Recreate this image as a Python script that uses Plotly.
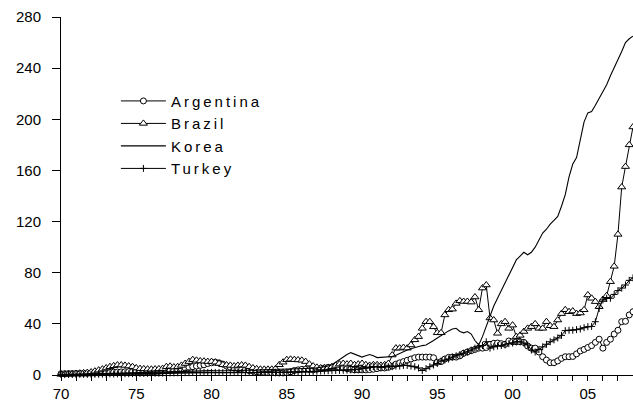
import plotly.graph_objects as go

# Quarterly observations, 1970Q1 .. 2008Q1 (153 points)
start_year = 1970
n_quarters = 153

argentina = [
    1.0, 1.0, 1.1, 1.1,   # 1970
    1.2, 1.2, 1.3, 1.3,   # 1971
    1.4, 1.5, 1.6, 1.7,   # 1972
    1.8, 2.0, 2.2, 2.3,   # 1973
    2.4, 2.5, 2.6, 2.6,   # 1974
    2.5, 2.4, 2.3, 2.3,   # 1975
    2.4, 2.6, 2.8, 3.0,   # 1976
    3.2, 3.5, 3.8, 4.2,   # 1977
    4.8, 5.5, 6.0, 6.5,   # 1978
    7.0, 7.5, 8.0, 9.0,   # 1979
    9.5, 10.0, 9.5, 8.5,  # 1980
    7.0, 6.0, 5.5, 5.0,   # 1981
    4.5, 4.0, 3.5, 3.0,   # 1982
    2.5, 2.2, 2.0, 1.8,   # 1983
    1.8, 1.7, 1.6, 1.6,   # 1984
    1.8, 2.5, 3.5, 4.0,   # 1985
    4.4, 4.4, 4.2, 4.0,   # 1986
    4.5, 5.0, 5.5, 6.0,   # 1987
    6.0, 6.2, 6.0, 5.5,   # 1988
    5.0, 4.5, 4.0, 4.0,   # 1989
    4.0, 4.0, 4.2, 4.5,   # 1990
    5.0, 5.5, 5.5, 6.0,   # 1991
    7.0, 8.5, 9.5, 10.5,  # 1992
    11.5, 12.5, 13.5, 14.0,  # 1993
    14.0, 14.0, 14.0, 13.5,  # 1994
    10.0, 10.5, 12.5, 13.8,  # 1995
    14.0, 14.0, 15.0, 17.0,  # 1996
    18.0, 19.0, 20.0, 21.0,  # 1997
    21.0, 21.5, 24.0, 24.8,  # 1998
    25.0, 24.5, 24.0, 26.6,  # 1999
    26.0, 26.0, 26.0, 25.5,  # 2000
    22.7, 21.0, 21.0, 18.0,  # 2001
    14.3, 11.7, 9.6, 9.6,    # 2002
    11.0, 13.0, 14.3, 14.3,  # 2003
    14.5, 16.5, 18.8, 20.0,  # 2004
    21.5, 23.0, 25.5, 28.0,  # 2005
    21.0, 25.5, 28.0, 32.0,  # 2006
    35.0, 41.7, 42.0, 47.0,  # 2007
    49.5,                    # 2008
]

brazil = [
    0.5, 0.6, 0.8, 1.0,   # 1970
    1.2, 1.4, 1.6, 1.9,   # 1971
    2.3, 3.0, 3.8, 4.6,   # 1972
    5.5, 6.5, 7.2, 7.8,   # 1973
    7.8, 7.5, 7.0, 6.5,   # 1974
    5.5, 5.0, 4.8, 4.6,   # 1975
    4.5, 4.6, 4.8, 5.0,   # 1976
    6.5, 6.8, 6.2, 6.5,   # 1977
    7.5, 9.0, 10.5, 12.0,  # 1978
    11.5, 11.0, 10.8, 10.5,  # 1979
    10.5, 10.0, 9.0, 8.0,  # 1980
    7.8, 7.5, 7.0, 7.5,   # 1981
    7.8, 7.5, 6.5, 5.5,   # 1982
    4.8, 4.5, 4.4, 4.4,   # 1983
    4.5, 4.8, 8.0, 10.0,  # 1984
    12.0, 12.3, 12.0, 11.8,  # 1985
    11.5, 10.5, 8.5, 7.0,  # 1986
    6.0, 5.5, 5.5, 5.8,   # 1987
    6.5, 7.5, 8.5, 9.0,   # 1988
    8.5, 9.0, 8.0, 8.5,   # 1989
    9.0, 8.0, 7.5, 8.0,   # 1990
    8.0, 7.5, 8.0, 9.0,   # 1991
    15.6, 21.0, 21.0, 21.5,  # 1992
    21.0, 23.5, 27.5, 30.0,  # 1993
    36.5, 41.7, 41.7, 37.7,  # 1994
    33.0, 33.0, 47.0, 51.0,  # 1995
    51.5, 56.0, 58.0, 57.5,  # 1996
    57.5, 57.0, 61.0, 51.0,  # 1997
    68.0, 70.4, 44.6, 43.0,  # 1998
    32.6, 40.0, 41.7, 36.5,  # 1999
    39.0, 30.0, 31.0, 34.0,  # 2000
    36.5, 37.8, 40.0, 36.5,  # 2001
    36.5, 41.7, 38.5, 37.8,  # 2002
    43.0, 48.0, 51.0, 49.5,  # 2003
    50.0, 48.0, 48.5, 51.0,  # 2004
    62.6, 60.0, 57.4, 53.5,  # 2005
    59.0, 62.0, 73.0, 85.0,  # 2006
    110.0, 147.0, 163.0, 180.0,  # 2007
    194.0,                   # 2008
]

korea = [
    0.5, 0.5, 0.6, 0.6,   # 1970
    0.7, 0.7, 0.8, 0.8,   # 1971
    0.9, 1.0, 1.0, 1.1,   # 1972
    1.2, 1.3, 1.4, 1.5,   # 1973
    1.6, 1.7, 1.8, 1.9,   # 1974
    2.0, 2.0, 2.1, 2.1,   # 1975
    2.2, 2.3, 2.4, 2.5,   # 1976
    2.6, 2.7, 2.8, 2.9,   # 1977
    3.0, 3.1, 3.2, 3.3,   # 1978
    3.4, 3.5, 3.5, 3.5,   # 1979
    3.4, 3.3, 3.2, 3.2,   # 1980
    3.2, 3.3, 3.4, 3.5,   # 1981
    3.6, 3.7, 3.8, 3.9,   # 1982
    4.0, 4.0, 4.1, 4.1,   # 1983
    4.2, 4.2, 4.3, 4.3,   # 1984
    4.3, 4.4, 4.4, 4.5,   # 1985
    4.6, 4.8, 5.0, 5.3,   # 1986
    5.6, 6.0, 6.5, 7.0,   # 1987
    8.0, 10.0, 12.5, 14.5,  # 1988
    16.0, 17.5, 16.5, 15.0,  # 1989
    14.0, 15.0, 16.0, 15.0,  # 1990
    13.6, 13.8, 14.0, 14.0,  # 1991
    14.5, 15.5, 17.0, 18.5,  # 1992
    19.5, 20.5, 21.5, 22.5,  # 1993
    23.0, 23.5, 25.0, 27.0,  # 1994
    29.0, 31.0, 32.6, 34.5,  # 1995
    36.0, 36.5, 34.0, 33.0,  # 1996
    34.0, 32.0, 27.0, 23.5,  # 1997
    30.0, 38.0, 46.0, 54.0,  # 1998
    60.0, 66.0, 72.0, 78.0,  # 1999
    84.0, 90.0, 93.0, 96.0,  # 2000
    94.0, 96.0, 100.0, 106.0,  # 2001
    111.0, 114.0, 118.0, 121.0,  # 2002
    124.0, 132.0, 141.0, 155.0,  # 2003
    165.0, 170.0, 184.0, 198.0,  # 2004
    205.0, 206.0, 211.0, 216.0,  # 2005
    221.0, 227.0, 234.0, 240.0,  # 2006
    246.0, 253.0, 260.0, 263.0,  # 2007
    265.0,                       # 2008
]

turkey = [
    0.3, 0.3, 0.4, 0.4,   # 1970
    0.4, 0.5, 0.5, 0.5,   # 1971
    0.6, 0.6, 0.6, 0.7,   # 1972
    0.7, 0.8, 0.8, 0.9,   # 1973
    0.9, 1.0, 1.0, 1.1,   # 1974
    1.1, 1.2, 1.2, 1.3,   # 1975
    1.3, 1.4, 1.4, 1.5,   # 1976
    1.5, 1.6, 1.6, 1.7,   # 1977
    1.7, 1.8, 1.8, 1.9,   # 1978
    1.9, 2.0, 2.0, 2.0,   # 1979
    2.0, 2.0, 2.0, 1.9,   # 1980
    1.9, 1.9, 1.9, 1.9,   # 1981
    1.9, 1.9, 1.9, 1.9,   # 1982
    1.9, 1.9, 2.0, 2.0,   # 1983
    2.0, 2.0, 2.1, 2.1,   # 1984
    2.2, 2.2, 2.3, 2.4,   # 1985
    2.5, 2.6, 2.7, 2.8,   # 1986
    3.0, 3.1, 3.2, 3.3,   # 1987
    3.4, 3.5, 3.6, 3.7,   # 1988
    3.8, 4.0, 4.2, 4.5,   # 1989
    5.0, 5.5, 6.0, 6.5,   # 1990
    6.5, 6.0, 6.5, 6.5,   # 1991
    6.5, 7.0, 7.0, 7.5,   # 1992
    7.5, 7.0, 6.5, 5.5,   # 1993
    3.5, 5.0, 6.5, 7.8,   # 1994
    9.0, 11.0, 11.7, 12.5,  # 1995
    14.0, 15.0, 16.0, 17.0,  # 1996
    18.0, 19.5, 21.0, 22.0,  # 1997
    23.0, 26.0, 21.0, 22.0,  # 1998
    22.7, 23.0, 23.5, 24.5,  # 1999
    25.0, 26.0, 26.0, 25.0,  # 2000
    23.5, 19.5, 18.0, 20.0,  # 2001
    22.0, 24.0, 26.0, 27.5,  # 2002
    29.0, 31.0, 34.7, 35.0,  # 2003
    35.0, 35.5, 36.0, 37.0,  # 2004
    37.8, 38.0, 41.7, 52.0,  # 2005
    58.7, 60.0, 60.0, 63.0,  # 2006
    66.0, 68.0, 70.4, 74.0,  # 2007
    76.0,                    # 2008
]

tick_years = [1970, 1975, 1980, 1985, 1990, 1995, 2000, 2005]
tick_labels = ["70", "75", "80", "85", "90", "95", "00", "05"]
y_ticks = [0, 40, 80, 120, 160, 200, 240, 280]

t = [start_year + q / 4 for q in range(n_quarters)]

FONT = "Arial, Liberation Sans, sans-serif"


def lab(s):
    return '<span style="letter-spacing:3px">' + s + '</span>'


fig = go.Figure()
fig.add_trace(go.Scatter(
    x=t, y=argentina, name=lab("Argentina"), legendgroup="a",
    mode="lines+markers", line=dict(color="black", width=1),
    marker=dict(symbol="circle", size=6, color="white",
                line=dict(color="black", width=1)),
    cliponaxis=False))
fig.add_trace(go.Scatter(
    x=t, y=brazil, name=lab("Brazil"), legendgroup="b",
    mode="lines+markers", line=dict(color="black", width=1),
    marker=dict(symbol="triangle-up", size=7, color="white",
                line=dict(color="black", width=1)),
    cliponaxis=False))
fig.add_trace(go.Scatter(
    x=t, y=korea, name=lab("Korea"), legendgroup="k",
    mode="lines", line=dict(color="black", width=1.1),
    cliponaxis=False))
fig.add_trace(go.Scatter(
    x=t, y=turkey, name=lab("Turkey"), legendgroup="t",
    mode="lines+markers", line=dict(color="black", width=1),
    marker=dict(symbol="cross-thin-open", size=5,
                line=dict(color="black", width=1)),
    cliponaxis=False))

fig.update_layout(
    width=633, height=404,
    margin=dict(l=61, r=0, t=17, b=29),
    paper_bgcolor="white", plot_bgcolor="white",
    font=dict(family=FONT, color="black", size=14),
    showlegend=True,
    legend=dict(x=0.096, y=0.811, xanchor="left", yanchor="top",
                bgcolor="rgba(0,0,0,0)", borderwidth=0,
                font=dict(family=FONT, size=15, color="black"),
                tracegroupgap=0, itemwidth=45),
    xaxis=dict(range=[1970, 2008], showgrid=False, zeroline=False,
               showline=True, linecolor="black", linewidth=1,
               ticks="outside", ticklen=5, tickcolor="black", tickwidth=1,
               tickvals=tick_years, ticktext=tick_labels,
               tickfont=dict(family=FONT, size=15, color="black"),
               minor=dict(dtick=1, tick0=1970, ticks="outside", ticklen=5,
                          tickcolor="black", tickwidth=1, showgrid=False)),
    yaxis=dict(range=[0, 280], showgrid=False, zeroline=False,
               showline=True, linecolor="black", linewidth=1,
               ticks="outside", ticklen=8, tickcolor="black", tickwidth=1,
               tickvals=y_ticks, ticklabelstandoff=8,
               tickfont=dict(family=FONT, size=15, color="black")),
)

# remove the default page margin so the 633x404 figure fills the window exactly
fig.write_html(
    "out.html",
    config={"displayModeBar": False},
    post_script="document.body.style.margin='0';document.body.style.overflow='hidden';",
)
